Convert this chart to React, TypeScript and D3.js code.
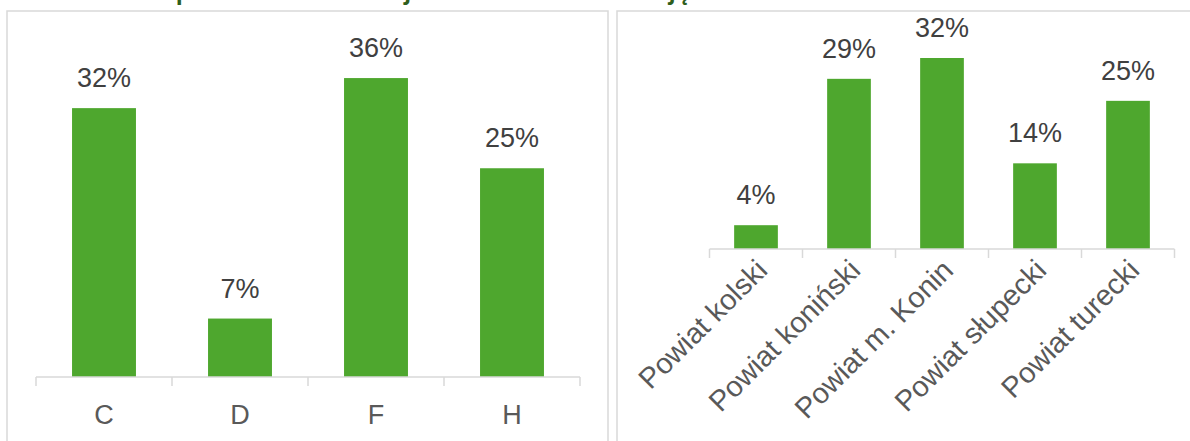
import React from "react";
import * as d3 from "d3";

const leftCategories = ["C", "D", "F", "H"];
const leftValues = [0.322, 0.07, 0.358, 0.25];

const rightCategories = [
  "Powiat kolski",
  "Powiat koniński",
  "Powiat m. Konin",
  "Powiat słupecki",
  "Powiat turecki",
];
const rightValues = [0.04, 0.286, 0.321, 0.144, 0.249];

const titleText = "Odsetek pracodawców w sekcji oraz w obszarze działają";

const W = 1190;
const H = 441;
const GREEN = "#4EA72E";
const GRID = "#D9D9D9";
const FONT = "'Liberation Sans', Arial, sans-serif";
const TITLE_FONT = "Roboto, 'Liberation Sans', sans-serif";
const fmt = d3.format(".0%");

export default function App() {
  // Left chart scales
  const lx = d3.scaleBand<string>().domain(leftCategories).range([36, 580]).paddingInner(0.53).paddingOuter(0.265);
  const lAxisY = 377;
  const ly = d3.scaleLinear().domain([0, 0.4]).range([lAxisY, lAxisY - 334]);
  const lStep = lx.step();
  const lStart = lx.range()[0];

  // Right chart scales
  const rx = d3.scaleBand<string>().domain(rightCategories).range([709.5, 1174.5]).paddingInner(0.53).paddingOuter(0.265);
  const rAxisY = 249;
  const ry = d3.scaleLinear().domain([0, 0.35]).range([rAxisY, rAxisY - 208.25]);
  const rStep = rx.step();
  const rStart = rx.range()[0];

  return (
    <svg
      width={W}
      height={H}
      viewBox={`0 0 ${W} ${H}`}
      style={{ position: "absolute", left: 0, top: 0, background: "#fff", fontFamily: FONT }}
    >
      <rect x={0} y={0} width={W} height={H} fill="#fff" />
      {/* Title (cut off at top in the reference) */}
      <text x={81} y={0} fontFamily={TITLE_FONT} fontSize={24} fontWeight={700} fill="#2F5E1C">
        {titleText}
      </text>

      {/* Panels */}
      <rect x={7} y={11} width={601} height={460} fill="none" stroke={GRID} strokeWidth={1.5} />
      <rect x={617} y={11} width={620} height={460} fill="none" stroke={GRID} strokeWidth={1.5} />

      {/* Left chart */}
      <g>
        {leftCategories.map((c, i) => (
          <rect
            key={c}
            x={lx(c)!}
            y={ly(leftValues[i])}
            width={lx.bandwidth()}
            height={lAxisY - ly(leftValues[i])}
            fill={GREEN}
          />
        ))}
        <line x1={lStart} x2={lStart + lStep * leftCategories.length} y1={lAxisY} y2={lAxisY} stroke={GRID} strokeWidth={1.5} />
        {d3.range(leftCategories.length + 1).map((i) => (
          <line key={i} x1={lStart + i * lStep} x2={lStart + i * lStep} y1={lAxisY} y2={lAxisY + 9} stroke={GRID} strokeWidth={1.5} />
        ))}
        {leftCategories.map((c, i) => (
          <text
            key={"v" + c}
            x={lx(c)! + lx.bandwidth() / 2}
            y={ly(leftValues[i]) - 21}
            textAnchor="middle"
            fontSize={27}
            fill="#404040"
          >
            {fmt(leftValues[i])}
          </text>
        ))}
        {leftCategories.map((c) => (
          <text
            key={"c" + c}
            x={lx(c)! + lx.bandwidth() / 2}
            y={424}
            textAnchor="middle"
            fontSize={27}
            fill="#595959"
          >
            {c}
          </text>
        ))}
      </g>

      {/* Right chart */}
      <g>
        {rightCategories.map((c, i) => (
          <rect
            key={c}
            x={rx(c)!}
            y={ry(rightValues[i])}
            width={rx.bandwidth()}
            height={rAxisY - ry(rightValues[i])}
            fill={GREEN}
          />
        ))}
        <line x1={rStart} x2={rStart + rStep * rightCategories.length} y1={rAxisY} y2={rAxisY} stroke={GRID} strokeWidth={1.5} />
        {d3.range(rightCategories.length + 1).map((i) => (
          <line key={i} x1={rStart + i * rStep} x2={rStart + i * rStep} y1={rAxisY} y2={rAxisY + 9} stroke={GRID} strokeWidth={1.5} />
        ))}
        {rightCategories.map((c, i) => (
          <text
            key={"v" + c}
            x={rx(c)! + rx.bandwidth() / 2}
            y={ry(rightValues[i]) - 21}
            textAnchor="middle"
            fontSize={27}
            fill="#404040"
          >
            {fmt(rightValues[i])}
          </text>
        ))}
        {rightCategories.map((c) => {
          const cx = rx(c)! + rx.bandwidth() / 2;
          return (
            <text
              key={"c" + c}
              transform={`translate(${cx + 13},${rAxisY + 23}) rotate(-45)`}
              textAnchor="end"
              fontSize={29}
              fill="#595959"
            >
              {c}
            </text>
          );
        })}
      </g>
    </svg>
  );
}
